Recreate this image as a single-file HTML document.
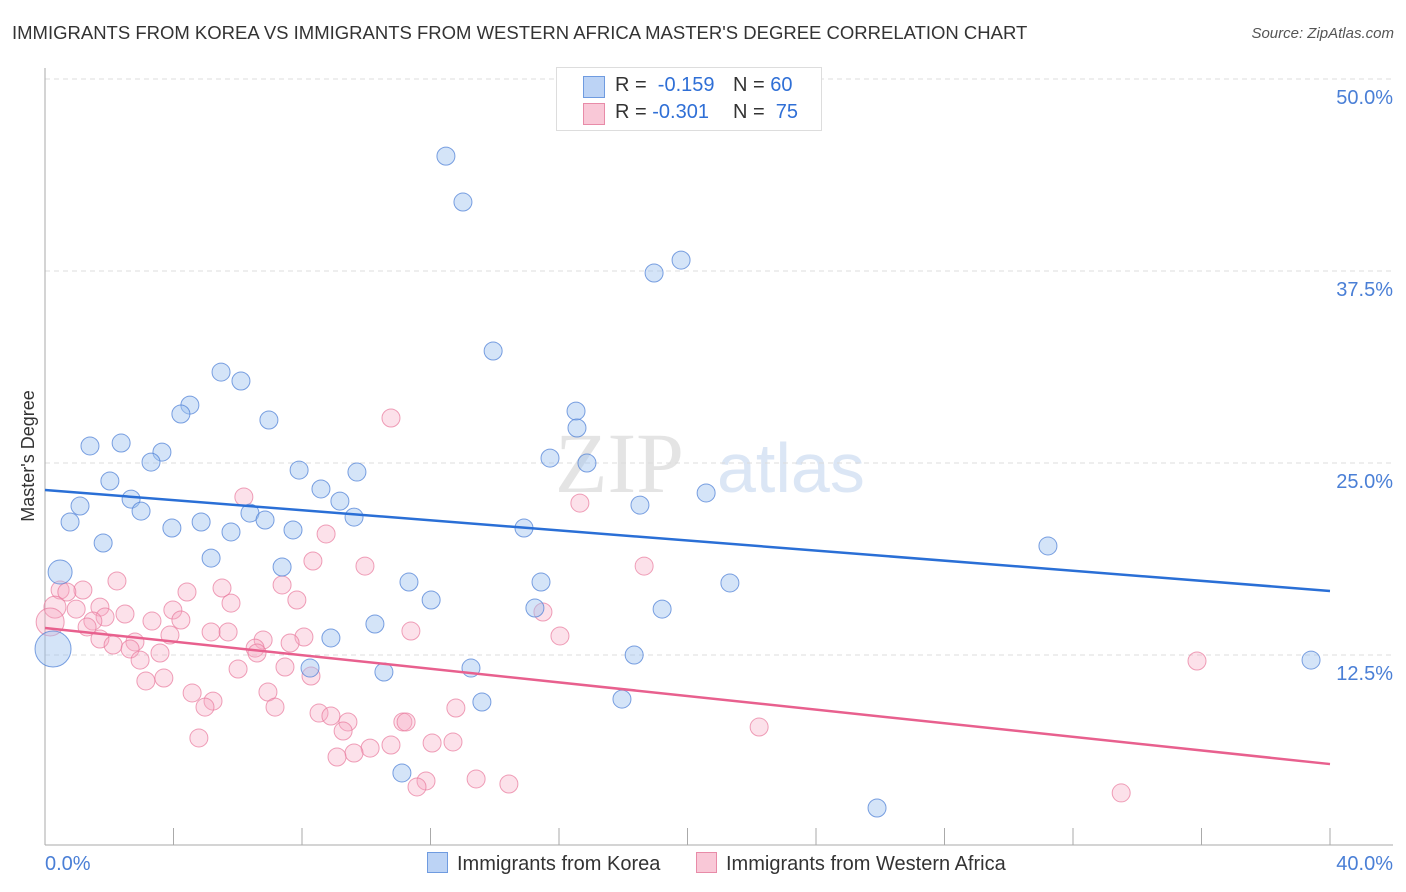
<!DOCTYPE html>
<html><head><meta charset="utf-8">
<style>
body{margin:0;background:#fff;font-family:"Liberation Sans",sans-serif;}
#wrap{position:relative;width:1406px;height:892px;overflow:hidden;}
.t{position:absolute;white-space:nowrap;}
</style></head><body>
<div id="wrap">
<div class="t" style="left:12px;top:22px;font-size:18.5px;color:#333;">IMMIGRANTS FROM KOREA VS IMMIGRANTS FROM WESTERN AFRICA MASTER'S DEGREE CORRELATION CHART</div>
<div class="t" style="right:12px;top:25px;font-size:15px;color:#555;font-style:italic;">Source: ZipAtlas.com</div>
<svg id="svg" width="1406" height="892" style="position:absolute;left:0;top:0"></svg>
</div>
<script>
const blueX=[12.48,13.01,18.96,19.80,13.95,5.48,6.10,4.51,4.23,6.97,16.53,16.56,1.40,2.37,3.64,3.30,15.72,16.87,2.02,7.91,9.71,8.59,2.68,1.09,2.99,9.18,6.38,20.58,18.52,0.78,6.85,9.62,4.86,3.95,5.79,7.72,14.91,1.81,5.17,31.22,0.47,7.38,11.33,15.44,21.32,12.02,15.25,19.21,10.27,8.90,0.25,18.34,8.25,13.26,10.55,39.41,13.60,17.96,11.11,25.90];
const blueY=[44.98,41.99,37.37,38.21,32.29,30.92,30.34,28.77,28.19,27.80,28.38,27.28,26.11,26.30,25.71,25.06,25.32,25.00,23.83,24.54,24.41,23.31,22.65,22.20,21.87,22.52,21.74,23.05,22.26,21.16,21.29,21.48,21.16,20.77,20.51,20.64,20.77,19.79,18.81,19.60,17.90,18.23,17.25,17.25,17.19,16.08,15.56,15.49,14.52,13.61,12.89,12.50,11.65,11.65,11.39,12.17,9.44,9.63,4.82,2.54];
const blueR=blueX.map((v,i)=>i===50?18:(i===40?12:9));
const pinkX=[10.77,6.19,16.65,8.75,8.34,9.96,18.65,2.24,0.47,1.18,5.51,4.42,7.38,0.68,0.31,1.71,0.97,7.84,5.79,15.50,3.98,2.49,1.87,3.33,4.23,0.16,1.49,1.31,3.89,5.17,5.70,6.79,11.39,16.03,8.06,1.71,2.80,7.63,2.12,6.54,2.65,6.60,3.58,2.96,7.47,6.01,8.28,3.70,3.14,4.58,6.94,5.23,4.98,7.16,8.53,8.90,12.79,9.43,11.14,11.24,9.28,4.79,12.05,12.70,10.77,10.12,9.62,9.09,22.23,35.86,11.86,11.58,13.42,14.44,33.50];
const pinkY=[27.93,22.79,22.39,20.38,18.62,18.29,18.29,17.32,16.73,16.73,16.86,16.60,17.06,16.60,15.62,15.62,15.49,16.08,15.88,15.30,15.43,15.17,14.97,14.71,14.78,14.65,14.71,14.32,13.80,14.00,14.00,13.48,14.06,13.74,13.67,13.54,13.35,13.28,13.15,12.95,12.89,12.63,12.63,12.17,11.72,11.59,11.13,11.00,10.81,10.03,10.09,9.50,9.11,9.11,8.72,8.53,9.05,8.14,8.14,8.14,7.55,7.10,6.77,6.84,6.64,6.44,6.12,5.86,7.81,12.11,4.30,3.91,4.43,4.10,3.52];
const pinkR=pinkX.map((v,i)=>i===25?14:(i===14?11:9));
const blueTrend=[23.24,16.67];
const pinkTrend=[14.26,5.40];
const yTicks=[12.5,25.0,37.5,50.0];
const xTickVals=[0,4,8,12,16,20,24,28,32,36,40];

const X0=45,X1=1330,YB=847,YT=79;
const sx=v=>X0+(v/40)*(X1-X0);
const sy=v=>YB-(v/50)*(YB-YT);
const svg=document.getElementById('svg');
const NS='http://www.w3.org/2000/svg';
function mk(tag,attrs){const e=document.createElementNS(NS,tag);for(const k in attrs)e.setAttribute(k,attrs[k]);svg.appendChild(e);return e;}

let wm=mk('text',{x:555,y:492,'font-size':86,'font-family':'Liberation Serif,serif',fill:'#e4e4e4'});


wm.textContent='ZIP';
let wm2=mk('text',{x:717,y:492,'font-size':70,'font-family':'Liberation Sans,sans-serif',fill:'#dbe6f5'});


wm2.textContent='atlas';

yTicks.forEach(v=>{
  const y=sy(v);
  let g=mk('line',{x1:45,x2:1393,y1:y,y2:y,stroke:'#dcdcdc','stroke-dasharray':'5,4'});
  
  
  let t=mk('text',{x:1393,y:y+25,'text-anchor':'end','font-size':20,fill:'#4a7fd6'});
  
  
  t.textContent=v.toFixed(1)+'%';
});
let ax=mk('line',{x1:45,x2:1393,y1:845,y2:845,stroke:'#aaa'});


let ay=mk('line',{x1:45,x2:45,y1:68,y2:845,stroke:'#aaa'});


xTickVals.forEach(v=>{
  let tk=mk('line',{x1:sx(v),x2:sx(v),y1:828,y2:845,stroke:'#aaa'});
  
  
});
let xl=mk('text',{x:45,y:870,'font-size':20,fill:'#4a7fd6'});


xl.textContent='0.0%';
let xr=mk('text',{x:1393,y:870,'text-anchor':'end','font-size':20,fill:'#4a7fd6'});


xr.textContent='40.0%';
let yt=mk('text',{x:0,y:0,'font-size':18,fill:'#333',transform:'translate(34,456) rotate(-90)','text-anchor':'middle'});


yt.textContent="Master's Degree";

pinkX.forEach((v,i)=>{
  let c=mk('circle',{cx:sx(v),cy:sy(pinkY[i]),r:pinkR[i],fill:'rgba(246,170,195,0.35)',stroke:'rgba(232,120,155,0.7)','stroke-width':1});
  
  
});
blueX.forEach((v,i)=>{
  let c=mk('circle',{cx:sx(v),cy:sy(blueY[i]),r:blueR[i],fill:'rgba(160,195,240,0.45)',stroke:'rgba(80,130,215,0.75)','stroke-width':1});
  
  
});
let bl=mk('line',{x1:sx(0),x2:sx(40),y1:sy(blueTrend[0]),y2:sy(blueTrend[1]),stroke:'#2a6fd6','stroke-width':2.5});


let pl=mk('line',{x1:sx(0),x2:sx(40),y1:sy(pinkTrend[0]),y2:sy(pinkTrend[1]),stroke:'#e8608e','stroke-width':2.5});


</script>
<div class="t" style="left:556px;top:67px;width:264px;height:62px;border:1px solid #ddd;background:#fff;">
  <div style="position:absolute;left:26px;top:8px;width:20px;height:20px;background:#bcd3f5;border:1px solid #6f9be0;"></div>
  <div class="t" style="left:58px;top:6px;font-size:20px;color:#333;">R = <span style="color:#2f6fd6">&nbsp;-0.159</span></div>
  <div class="t" style="left:176px;top:6px;font-size:20px;color:#333;">N = <span style="color:#2f6fd6">60</span></div>
  <div style="position:absolute;left:26px;top:35px;width:20px;height:20px;background:#f9c8d7;border:1px solid #e88ba8;"></div>
  <div class="t" style="left:58px;top:33px;font-size:20px;color:#333;">R = <span style="color:#2f6fd6">-0.301</span></div>
  <div class="t" style="left:176px;top:33px;font-size:20px;color:#333;">N = <span style="color:#2f6fd6">&nbsp;75</span></div>
</div>
<div class="t" style="left:427px;top:852px;font-size:20px;color:#333;">
  <span style="display:inline-block;width:19px;height:19px;background:#bcd3f5;border:1px solid #6f9be0;vertical-align:-3px;margin-right:9px;"></span>Immigrants from Korea</div>
<div class="t" style="left:696px;top:852px;font-size:20px;color:#333;">
  <span style="display:inline-block;width:19px;height:19px;background:#f9c8d7;border:1px solid #e88ba8;vertical-align:-3px;margin-right:9px;"></span>Immigrants from Western Africa</div>
</body></html>
